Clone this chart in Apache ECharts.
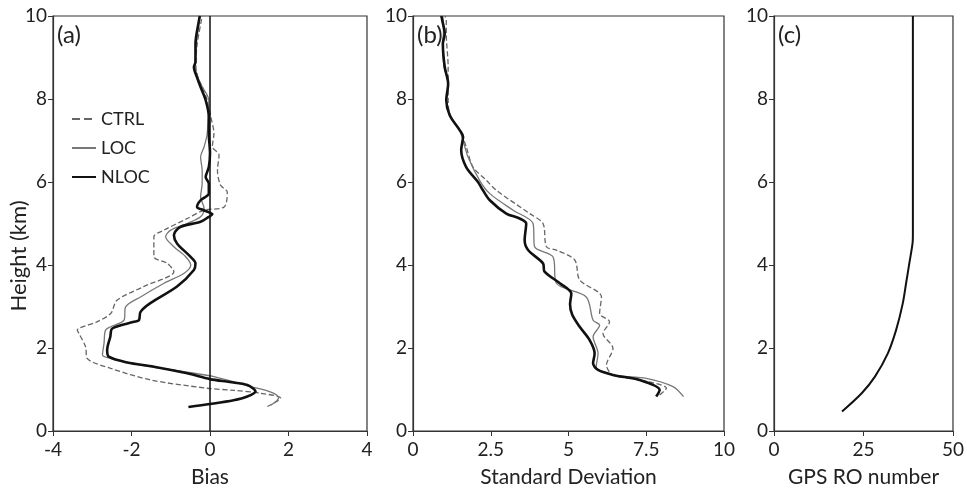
<!DOCTYPE html>
<html><head><meta charset="utf-8">
<script src="https://cdn.jsdelivr.net/npm/echarts@6/dist/echarts.min.js"></script>
<style>html,body{margin:0;padding:0;background:#fff}#c{width:967px;height:496px}</style>
</head><body><div id="c"></div>
<script>
// Panel (a): Bias profiles, pairs [bias, height km]
var biasCTRL = [[1.46,0.59],[1.8,0.79],[1.29,0.91],[0.6,0.98],[-0.07,1.03],[-1.51,1.23],[-2.53,1.51],[-3.13,1.75],[-3.17,2.03],[-3.34,2.35],[-3.38,2.43],[-2.88,2.63],[-2.53,2.83],[-2.37,3.15],[-1.69,3.48],[-0.92,3.84],[-1.09,4.04],[-1.43,4.2],[-1.43,4.68],[-1.17,4.84],[-0.58,5.12],[-0.15,5.32],[0.36,5.4],[0.44,5.76],[0.27,5.92],[0.19,6.28],[0.23,6.65],[0.06,6.85],[0.1,7.17],[0.02,7.57],[-0.07,7.97],[-0.2,8.3],[-0.3,8.5],[-0.36,8.8],[-0.33,9.3],[-0.22,9.9],[-0.2,10]];
var biasLOC = [[1.55,0.62],[1.75,0.8],[1.6,0.92],[1.04,1.07],[0.1,1.31],[-0.66,1.43],[-1.77,1.59],[-2.53,1.75],[-2.74,1.83],[-2.7,2.11],[-2.66,2.43],[-2.19,2.67],[-2.15,2.99],[-1.77,3.23],[-1.17,3.56],[-0.66,3.8],[-0.49,4.0],[-0.62,4.2],[-0.92,4.44],[-1.13,4.68],[-1.0,4.84],[-0.58,5.0],[-0.24,5.16],[-0.15,5.36],[-0.24,5.64],[-0.2,5.96],[-0.2,6.28],[-0.24,6.6],[-0.15,6.85],[-0.07,7.17],[-0.03,7.97],[-0.2,8.3],[-0.3,8.5],[-0.38,8.8],[-0.35,9.3],[-0.27,9.9],[-0.25,10]];
var biasNLOC = [[-0.55,0.58],[0.0,0.65],[0.6,0.74],[0.95,0.83],[1.16,0.95],[0.95,1.11],[0.5,1.18],[0.0,1.25],[-0.58,1.39],[-1.43,1.55],[-2.11,1.65],[-2.58,1.79],[-2.62,1.95],[-2.54,2.27],[-2.49,2.47],[-1.94,2.63],[-1.81,2.67],[-1.77,2.87],[-1.52,3.08],[-0.84,3.48],[-0.41,3.88],[-0.37,4.04],[-0.5,4.2],[-0.84,4.52],[-0.92,4.72],[-0.75,4.92],[-0.24,5.04],[-0.03,5.16],[0.06,5.22],[-0.16,5.32],[-0.33,5.4],[-0.24,5.56],[-0.03,5.72],[-0.03,5.96],[-0.11,6.12],[-0.03,6.36],[0.0,6.69],[-0.03,7.17],[-0.03,7.57],[-0.11,7.97],[-0.24,8.29],[-0.32,8.49],[-0.41,8.77],[-0.37,8.89],[-0.37,9.33],[-0.28,9.9],[-0.26,10]];
// Panel (b): Standard deviation profiles
var sdCTRL = [[7.93,0.87],[8.15,1.03],[7.29,1.23],[6.43,1.35],[6.22,1.59],[6.43,1.99],[6.11,2.35],[6.32,2.63],[6.0,2.83],[6.06,3.23],[5.36,3.64],[5.2,4.12],[4.61,4.36],[4.29,4.44],[4.18,5.0],[3.75,5.24],[2.68,5.8],[2.36,6.04],[1.93,6.36],[1.71,6.85],[1.55,7.17],[1.18,7.65],[1.13,8.05],[1.13,8.77],[1.07,9.57],[1.07,9.9],[1.03,10]];
var sdLOC = [[8.7,0.83],[8.36,1.07],[7.5,1.27],[6.43,1.35],[5.89,1.55],[5.95,1.87],[5.79,2.27],[6.0,2.55],[5.79,2.67],[5.57,3.23],[4.61,3.56],[4.5,4.2],[3.91,4.44],[3.86,5.0],[3.22,5.32],[2.47,5.72],[2.14,6.04],[1.77,6.6],[1.61,7.0],[1.5,7.25],[1.18,7.61],[1.07,7.97],[1.13,8.37],[1.0,8.77],[0.95,9.33],[0.98,9.6],[0.96,10]];
var sdNLOC = [[7.82,0.83],[7.93,0.99],[7.29,1.23],[6.43,1.35],[5.95,1.47],[5.79,1.63],[5.84,1.87],[5.68,2.19],[5.36,2.51],[5.12,2.8],[5.05,3.05],[5.09,3.31],[4.72,3.56],[4.23,3.84],[4.18,4.04],[3.7,4.36],[3.59,4.6],[3.64,5.0],[3.43,5.12],[3.0,5.24],[2.47,5.56],[2.25,5.8],[2.09,6.0],[1.71,6.36],[1.55,6.77],[1.61,7.09],[1.5,7.25],[1.18,7.61],[1.07,7.97],[1.13,8.37],[1.02,8.77],[0.96,9.33],[1.02,9.57],[0.94,9.9],[0.91,10]];
// Panel (c): GPS RO number
var gpsRO = [[19.0,0.47],[24.5,0.91],[28.2,1.31],[31.8,1.87],[34.1,2.43],[35.96,3.07],[36.9,3.56],[37.8,4.04],[38.7,4.52],[38.8,4.76],[38.8,10]];

var panelLabels = ['(a)','(b)','(c)'];
var xNames = ['Bias','Standard Deviation','GPS RO number'];
var yName = 'Height (km)';
var seriesNames = ['CTRL','LOC','NLOC'];

var FONT = 'Lato';
var chart = echarts.init(document.getElementById('c'));
var grids = [
  {left:53, top:16, width:314, height:415},
  {left:413, top:16, width:311, height:415},
  {left:774, top:16, width:182, height:415}
];
grids.forEach(function(g){ g.show=true; g.borderColor='#333'; g.borderWidth=1.2; g.backgroundColor='transparent'; });
var xRanges = [[-4,4,2],[0,10,2.5],[0,50,25]];
var xAxes = xRanges.map(function(r,i){
  return {type:'value', gridIndex:i, min:r[0], max:r[1], interval:r[2],
    name:xNames[i], nameLocation:'middle', nameGap:36,
    nameTextStyle:{fontFamily:FONT, fontSize:21, color:'#222'},
    axisLine:{show:true, onZero:false, lineStyle:{color:'#333', width:1.2}},
    axisTick:{show:true, length:5, lineStyle:{color:'#333'}},
    axisLabel:{fontFamily:FONT, fontSize:19, color:'#222', margin:9},
    splitLine:{show:false}};
});
var yAxes = [0,1,2].map(function(i){
  return {type:'value', gridIndex:i, min:0, max:10, interval:2,
    axisLine:{show:true, onZero:false, lineStyle:{color:'#333', width:1.2}},
    axisTick:{show:true, length:5, lineStyle:{color:'#333'}},
    axisLabel:{fontFamily:FONT, fontSize:19, color:'#222', margin:6},
    splitLine:{show:false}};
});
var styles = {
  CTRL:{color:'#666', width:1.3, type:'dashed'},
  LOC:{color:'#777', width:1.3, type:'solid'},
  NLOC:{color:'#111', width:2.6, type:'solid'}
};
function mk(name, data, idx, extra){
  var s = {name:name, type:'line', xAxisIndex:idx, yAxisIndex:idx, data:data,
    showSymbol:false, symbol:'none', smooth:0.3, silent:true,
    lineStyle:styles[name], itemStyle:{color:styles[name].color}, z: name==='NLOC'?5:3};
  if (extra) Object.assign(s, extra);
  return s;
}
var series = [
  mk('CTRL', biasCTRL, 0),
  mk('LOC', biasLOC, 0),
  mk('NLOC', biasNLOC, 0, {markLine:{silent:true, symbol:'none', label:{show:false},
     lineStyle:{color:'#111', width:1.5, type:'solid'}, data:[{xAxis:0}]}}),
  mk('CTRL', sdCTRL, 1),
  mk('LOC', sdLOC, 1),
  mk('NLOC', sdNLOC, 1),
  {name:'GPS', type:'line', xAxisIndex:2, yAxisIndex:2, data:gpsRO, showSymbol:false, symbol:'none',
   smooth:0.3, silent:true, lineStyle:{color:'#111', width:2}}
];
var graphics = panelLabels.map(function(t,i){
  return {type:'text', left: grids[i].left+4, top: 23, style:{text:t, font:'24px '+FONT, fill:'#222'}};
});
graphics.push({type:'text', x:19, y:256, rotation:Math.PI/2,
  style:{text:yName, font:'22px '+FONT, fill:'#222', textAlign:'center', textVerticalAlign:'middle'}});
chart.setOption({
  animation:false,
  grid:grids, xAxis:xAxes, yAxis:yAxes, series:series,
  legend:{data:seriesNames, orient:'vertical', left:66, top:105, itemWidth:24, itemHeight:12, itemGap:11,
    itemStyle:{opacity:0},
    textStyle:{fontFamily:FONT, fontSize:18, color:'#222'}, selectedMode:false},
  graphic: graphics
});
</script></body></html>
